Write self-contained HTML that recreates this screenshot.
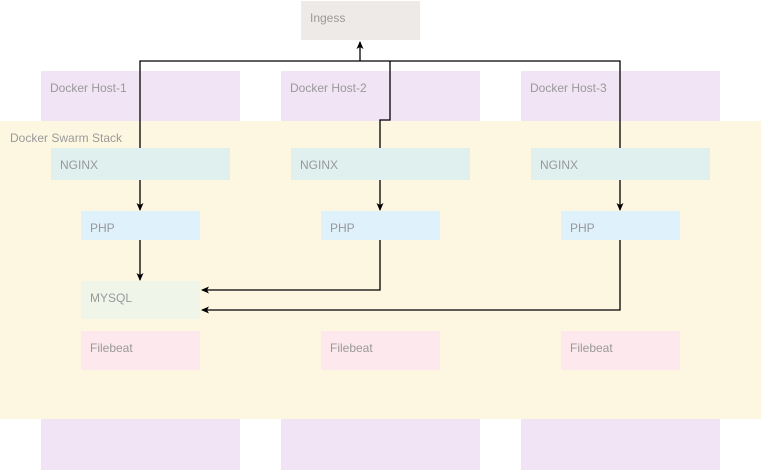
<!DOCTYPE html>
<html><head><style>
html,body{margin:0;padding:0;background:#fff;width:761px;height:471px;overflow:hidden}
</style></head><body>
<svg width="761" height="471" viewBox="0 0 761 471" xmlns="http://www.w3.org/2000/svg" font-family="Liberation Sans, sans-serif" font-size="12" fill="#999">
<defs>
<marker id="a" markerWidth="8" markerHeight="8" refX="7" refY="4" orient="auto" markerUnits="userSpaceOnUse">
<path d="M0,0.5 L8,4 L0,7.5 L2,4 Z" fill="#000"/>
</marker>
</defs>
<rect x="301" y="1" width="119" height="39" fill="#eeeae7"/>
<text x="310" y="22">Ingess</text>
<rect x="41" y="71" width="199" height="399" fill="#f1e4f4"/>
<rect x="281" y="71" width="199" height="399" fill="#f1e4f4"/>
<rect x="521" y="71" width="199" height="399" fill="#f1e4f4"/>
<text x="50" y="92">Docker Host-1</text>
<text x="290" y="92">Docker Host-2</text>
<text x="530" y="92">Docker Host-3</text>
<rect x="0" y="121" width="761" height="298" fill="#fdf7e2"/>
<text x="10" y="142">Docker Swarm Stack</text>
<g fill="none" stroke="#000" stroke-width="1.3">
<path d="M140,148 V61 H620 V148"/>
<path d="M390,61 V120 H380 V148"/>
<path d="M360,61 V42" marker-end="url(#a)"/>
<path d="M140,180 V210" marker-end="url(#a)"/>
<path d="M380,180 V210" marker-end="url(#a)"/>
<path d="M620,180 V210" marker-end="url(#a)"/>
<path d="M140,240 V280" marker-end="url(#a)"/>
<path d="M380,240 V290 H202" marker-end="url(#a)"/>
<path d="M620,240 V310 H202" marker-end="url(#a)"/>
</g>
<rect x="51" y="148" width="179" height="32" fill="#dff0ef"/>
<rect x="291" y="148" width="179" height="32" fill="#dff0ef"/>
<rect x="531" y="148" width="179" height="32" fill="#dff0ef"/>
<text x="60" y="169">NGINX</text>
<text x="300" y="169">NGINX</text>
<text x="540" y="169">NGINX</text>
<rect x="81" y="211" width="119" height="29" fill="#dff1fb"/>
<rect x="321" y="211" width="119" height="29" fill="#dff1fb"/>
<rect x="561" y="211" width="119" height="29" fill="#dff1fb"/>
<text x="90" y="232">PHP</text>
<text x="330" y="232">PHP</text>
<text x="570" y="232">PHP</text>
<rect x="81" y="281" width="119" height="38" fill="#eff5e8"/>
<text x="90" y="302">MYSQL</text>
<rect x="81" y="331" width="119" height="39" fill="#fde8ee"/>
<rect x="321" y="331" width="119" height="39" fill="#fde8ee"/>
<rect x="561" y="331" width="119" height="39" fill="#fde8ee"/>
<text x="90" y="352">Filebeat</text>
<text x="330" y="352">Filebeat</text>
<text x="570" y="352">Filebeat</text>
</svg>
</body></html>
